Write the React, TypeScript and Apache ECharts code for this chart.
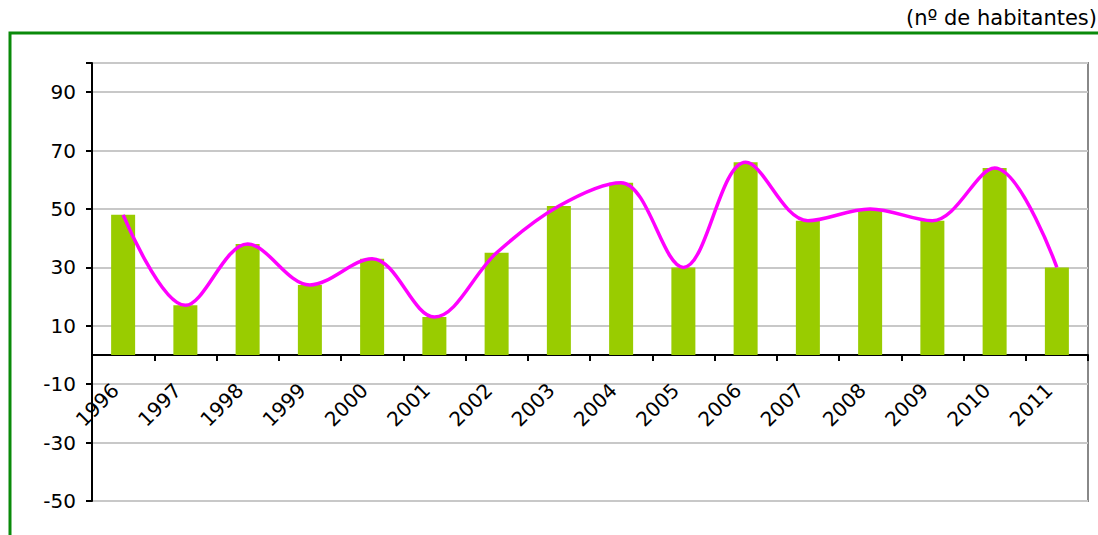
import React, { useEffect, useRef } from "react";
import * as echarts from "echarts";

const years = ["1996","1997","1998","1999","2000","2001","2002","2003","2004","2005","2006","2007","2008","2009","2010","2011"];
const barValues = [48, 17, 38, 24, 33, 13, 35, 51, 59, 30, 66, 46, 50, 46, 64, 30];
const lineValues = [48, 17, 38, 24, 33, 13, 35, 51, 59, 30, 66, 46, 50, 46, 64, 30];
const yTicks = [-50, -30, -10, 10, 30, 50, 70, 90];
const unitLabel = "(nº de habitantes)";

export default function App() {
  const ref = useRef<HTMLDivElement>(null);
  useEffect(() => {
    if (!ref.current) return;
    const chart = echarts.init(ref.current, null, { renderer: "svg" });
    const font = "DejaVu Sans";
    chart.setOption({
      animation: false,
      backgroundColor: "#ffffff",
      textStyle: { fontFamily: font },
      grid: {
        left: 92, right: 10, top: 63, bottom: 34,
        outerBoundsMode: "none",
        containLabel: false,
        show: true, borderColor: "#888888", borderWidth: 2, backgroundColor: "transparent",
      },
      graphic: [
        {
          type: "rect",
          shape: { x: 10, y: 33, width: 1200, height: 700 },
          style: { fill: "none", stroke: "#0a8a0a", lineWidth: 3 },
          silent: true,
        },
        {
          type: "text",
          x: 1097, y: 18,
          style: { text: unitLabel, fontFamily: font, fontSize: 21, fill: "#000", align: "right", verticalAlign: "middle" },
        },
      ],
      xAxis: {
        type: "category",
        data: years,
        boundaryGap: true,
        offset: -146,
        axisLine: { show: true, onZero: false, lineStyle: { color: "#000", width: 2 } },
        axisTick: { show: true, length: 6, lineStyle: { color: "#000", width: 2 } },
        axisLabel: { rotate: 45, fontSize: 20, color: "#000", fontFamily: font, margin: 24, interval: 0, padding: [0, 11, 0, 0] },
        splitLine: { show: false },
      },
      yAxis: {
        type: "value",
        min: -50, max: 100, interval: 20,
        axisLine: { show: true, lineStyle: { color: "#000", width: 2 } },
        axisTick: { show: true, length: 6, lineStyle: { color: "#000", width: 2 } },
        axisLabel: { fontSize: 20, color: "#000", fontFamily: font, margin: 16, customValues: yTicks },
        splitLine: { show: true, lineStyle: { color: "#c8c8c8", width: 2 } },
      },
      series: [
        {
          type: "bar",
          data: barValues,
          barWidth: 24,
          itemStyle: { color: "#99cc00" },
          z: 2,
        },
        {
          type: "line",
          data: lineValues,
          smooth: 0.35,
          symbol: "none",
          lineStyle: { color: "#ff00ff", width: 3.5 },
          z: 3,
        },
      ],
    });
    return () => chart.dispose();
  }, []);
  return (
    <div style={{ position: "fixed", left: 0, top: 0, width: 1098, height: 535 }}>
      <div ref={ref} style={{ width: 1098, height: 535 }} />
    </div>
  );
}
